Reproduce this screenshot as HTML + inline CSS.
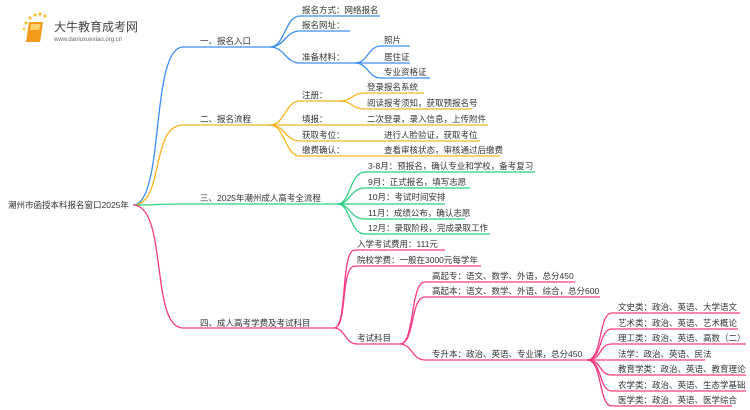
<!DOCTYPE html>
<html><head><meta charset="utf-8"><style>
html,body{margin:0;padding:0;background:#fff;width:750px;height:410px;overflow:hidden}
svg text{font-family:"Liberation Sans","Noto Sans CJK SC",sans-serif;font-size:8.5px;fill:#333}
</style></head><body>
<svg width="750" height="410" viewBox="0 0 750 410" xmlns="http://www.w3.org/2000/svg">
<g fill="none" stroke-width="1.3">
<g stroke="#3b8ef5">
<path d="M133 205 C165 205,150 47,183 47 H270"/>
<path d="M270 47 C285 47,285 16,300 16 H380"/>
<path d="M270 47 C285 47,285 31,300 31 H350"/>
<path d="M270 47 C285 47,285 63,300 63 H355"/>
<path d="M355 63 C368 63,368 46,381 46 H410"/>
<path d="M355 63 H410"/>
<path d="M355 63 C368 63,368 78,381 78 H430"/>
</g>
<g stroke="#f6b31f">
<path d="M133 205 C165 205,150 125,183 125 H270"/>
<path d="M270 125 C285 125,285 101,300 101 H340"/>
<path d="M340 101 C352 101,352 93,365 93 H424"/>
<path d="M340 101 C352 101,352 109,365 109 H472"/>
<path d="M270 125 H488"/>
<path d="M270 125 C285 125,285 141,300 141 H480"/>
<path d="M270 125 C285 125,285 156,300 156 H500"/>
</g>
<g stroke="#2fcf80">
<path d="M133 205 C165 205,150 204,183 204 H338"/>
<path d="M338 204 C350 204,350 172,365 172 H535"/>
<path d="M338 204 C350 204,350 188,365 188 H470"/>
<path d="M338 204 H445"/>
<path d="M338 204 C350 204,350 219,365 219 H465"/>
<path d="M338 204 C350 204,350 234,365 234 H490"/>
</g>
<g stroke="#f73a85">
<path d="M133 205 C168 205,150 328,183 328 H334"/>
<path d="M334 328 C348 328,340 250,355 250 H445"/>
<path d="M334 328 C348 328,340 266,355 266 H481"/>
<path d="M334 328 C345 328,345 344,357 344 H400"/>
<path d="M400 344 C415 344,410 282,425 282 H575"/>
<path d="M400 344 C415 344,410 297,425 297 H600"/>
<path d="M400 344 C412 344,412 360,425 360 H587"/>
<path d="M587 360 C603 360,598 313,612 313 H740"/>
<path d="M587 360 C603 360,598 329,612 329 H738"/>
<path d="M587 360 C603 360,598 344,612 344 H746"/>
<path d="M587 360 H705"/>
<path d="M587 360 C603 360,598 375,612 375 H746"/>
<path d="M587 360 C603 360,598 391,612 391 H746"/>
<path d="M587 360 C603 360,598 406,612 406 H732"/>
</g>
</g>
<g>
<circle cx="26" cy="23" r="1.6" fill="#f8c23a"/><circle cx="30" cy="18" r="1.6" fill="#f8c23a"/><circle cx="35" cy="15" r="1.6" fill="#f8c23a"/><circle cx="40" cy="14" r="1.6" fill="#f8c23a"/><circle cx="45" cy="16" r="1.6" fill="#f8c23a"/><circle cx="24" cy="29" r="1.3" fill="#f8c23a"/>
<path d="M29 22 L43 22 L40 42 L26 42 Z" fill="#f39a1a"/>
<path d="M31 24 L41 24 L39 30 L30 30 Z" fill="#fbd16a"/>
<text x="54" y="31" style="font-size:12px;fill:#444">大牛教育成考网</text>
<text x="54" y="41" style="font-size:6px;fill:#666">www.daniuxuexiao.org.cn</text>
</g>
<text x="8" y="208">潮州市函授本科报名窗口2025年</text>
<text x="200" y="44">一、报名入口</text>
<text x="302" y="13">报名方式：网络报名</text>
<text x="302" y="28">报名网址：</text>
<text x="302" y="60">准备材料：</text>
<text x="384" y="43">照片</text>
<text x="384" y="60">居住证</text>
<text x="384" y="75">专业资格证</text>
<text x="200" y="122">二、报名流程</text>
<text x="302" y="98">注册：</text>
<text x="367" y="90">登录报名系统</text>
<text x="367" y="106">阅读报考须知，获取预报名号</text>
<text x="302" y="122">填报：</text>
<text x="367" y="122">二次登录，录入信息，上传附件</text>
<text x="302" y="138">获取考位：</text>
<text x="384" y="138">进行人脸验证，获取考位</text>
<text x="302" y="153">缴费确认：</text>
<text x="384" y="153">查看审核状态，审核通过后缴费</text>
<text x="200" y="201">三、2025年潮州成人高考全流程</text>
<text x="368" y="169">3-8月：预报名，确认专业和学校，备考复习</text>
<text x="368" y="185">9月：正式报名，填写志愿</text>
<text x="368" y="200">10月：考试时间安排</text>
<text x="368" y="216">11月：成绩公布，确认志愿</text>
<text x="368" y="231">12月：录取阶段，完成录取工作</text>
<text x="200" y="326">四、成人高考学费及考试科目</text>
<text x="357" y="247">入学考试费用：111元</text>
<text x="357" y="263">院校学费：一般在3000元每学年</text>
<text x="357" y="341">考试科目</text>
<text x="432" y="279">高起专：语文、数学、外语，总分450</text>
<text x="432" y="294">高起本：语文、数学、外语、综合，总分600</text>
<text x="432" y="357">专升本：政治、英语、专业课，总分450</text>
<text x="618" y="310">文史类：政治、英语、大学语文</text>
<text x="618" y="326">艺术类：政治、英语、艺术概论</text>
<text x="618" y="341">理工类：政治、英语、高数（二）</text>
<text x="618" y="357">法学：政治、英语、民法</text>
<text x="618" y="372">教育学类：政治、英语、教育理论</text>
<text x="618" y="388">农学类：政治、英语、生态学基础</text>
<text x="618" y="403">医学类：政治、英语、医学综合</text>
</svg>
</body></html>
